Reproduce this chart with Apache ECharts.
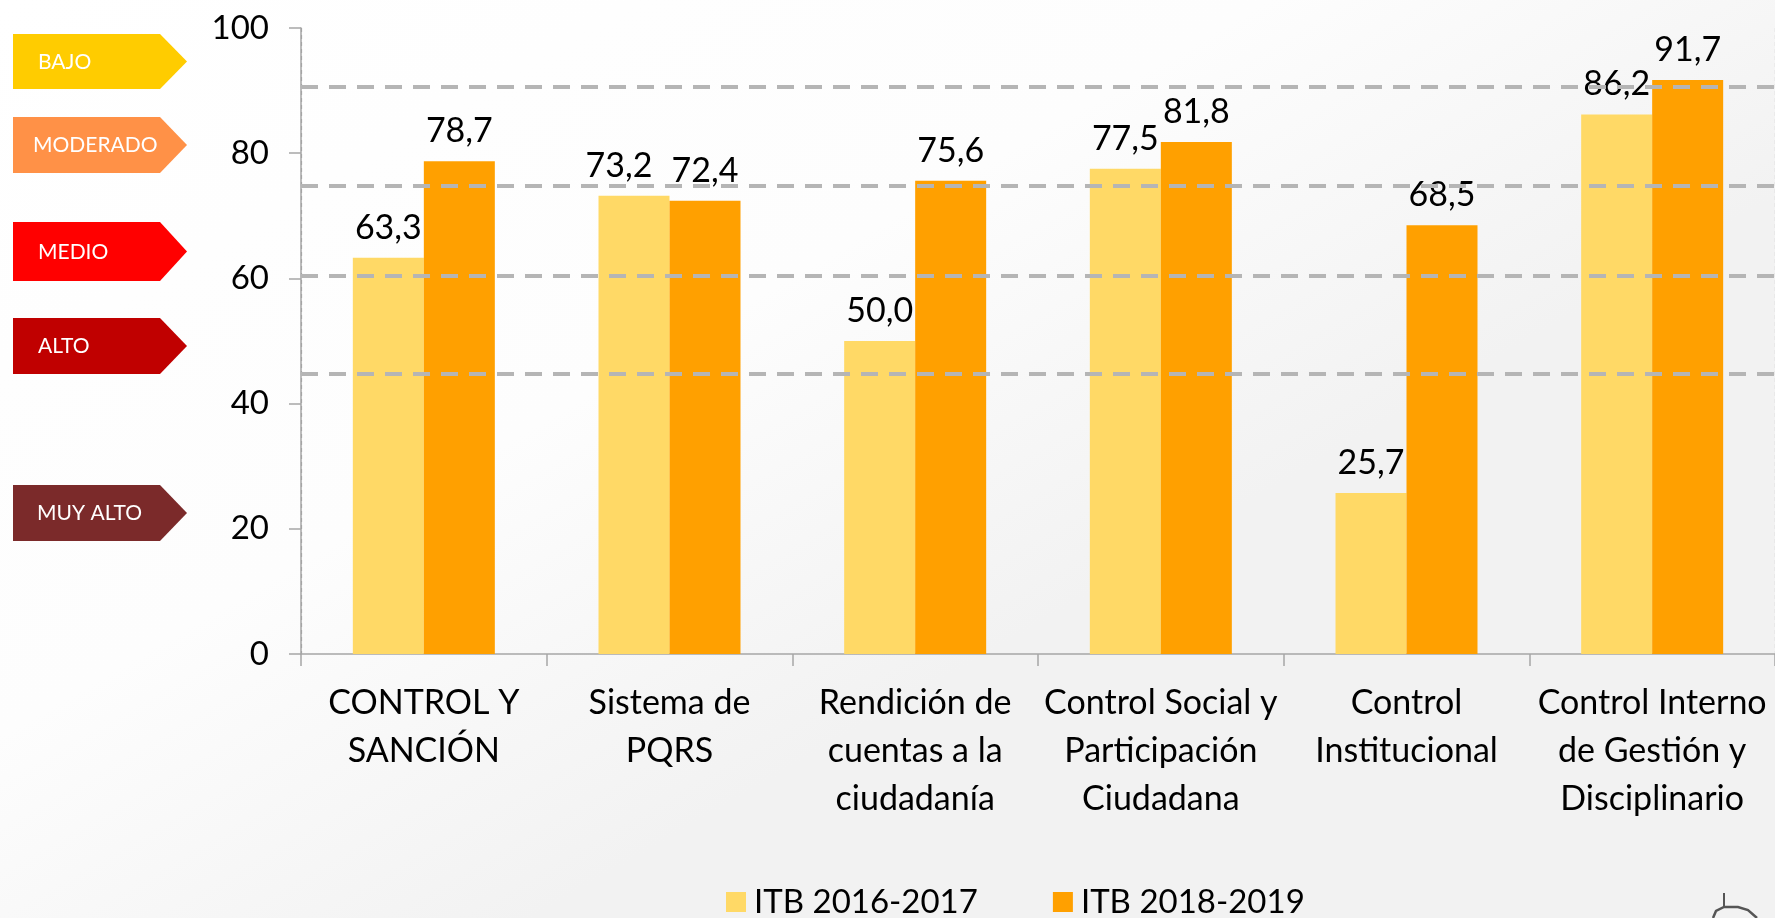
<!DOCTYPE html>
<html>
<head>
<meta charset="utf-8">
<title>ITB</title>
<script src="https://cdn.jsdelivr.net/npm/echarts@6/dist/echarts.min.js"></script>
<style>
  html, body { margin: 0; padding: 0; }
  #main { width: 1775px; height: 918px; }
</style>
</head>
<body>
<div id="main"></div>
<script>
  // categorias del eje x
  var categorias = [
    'CONTROL Y\nSANCIÓN',
    'Sistema de\nPQRS',
    'Rendición de\ncuentas a la\nciudadanía',
    'Control Social y\nParticipación\nCiudadana',
    'Control\nInstitucional',
    'Control Interno\nde Gestión y\nDisciplinario'
  ];
  var serie1Nombre = 'ITB 2016-2017';
  var serie2Nombre = 'ITB 2018-2019';
  var itb2016 = [63.3, 73.2, 50.0, 77.5, 25.7, 86.2];
  var itb2018 = [78.7, 72.4, 75.6, 81.8, 68.5, 91.7];
  var ticksY = [0, 20, 40, 60, 80, 100];
  // limites de los niveles de riesgo (lineas punteadas)
  var limites = [90.6, 74.8, 60.5, 44.8];
  var niveles = ['BAJO', 'MODERADO', 'MEDIO', 'ALTO', 'MUY ALTO'];
  var nivelColores = ['#FFCC00', '#FF9147', '#FF0000', '#C00000', '#7B2A2A'];

  var fuente = 'Lato';

  /* flechas de niveles a la izquierda */
  var flechaY = [[34, 89], [117, 173], [222, 281], [318, 374], [485, 541]];
  var textoX = [38, 33, 38, 38, 37];
  var graficos = [];
  for (var i = 0; i < niveles.length; i++) {
    var y0 = flechaY[i][0], y1 = flechaY[i][1];
    graficos.push({
      type: 'polygon',
      shape: { points: [[13, y0], [160, y0], [187, (y0 + y1) / 2], [160, y1], [13, y1]] },
      style: { fill: nivelColores[i] },
      silent: true
    });
    graficos.push({
      type: 'text',
      left: textoX[i],
      top: (y0 + y1) / 2 - 10,
      style: { text: niveles[i], fill: '#fff', font: '21px ' + fuente }
    });
  }
  // trazo del logo abajo a la derecha
  graficos.push({
    type: 'polyline',
    shape: { points: [[1713, 918], [1716, 911], [1724, 907], [1738, 907], [1748, 910], [1757, 918]] },
    style: { stroke: '#555', lineWidth: 2.5, fill: null }
  });
  graficos.push({
    type: 'line',
    shape: { x1: 1724, y1: 893, x2: 1724, y2: 907 },
    style: { stroke: '#555', lineWidth: 2 }
  });

  var etiqueta = {
    show: true, position: 'top', distance: 13,
    color: '#000', fontSize: 34,
    formatter: function (p) { return p.value.toFixed(1).replace('.', ','); }
  };
  // la etiqueta 73,2 va corrida a la izquierda para no chocar con 72,4
  var datos2016 = itb2016.map(function (v, idx) {
    if (idx === 1) return { value: v, label: { offset: [-15, 0] } };
    return v;
  });

  var chart = echarts.init(document.getElementById('main'));
  var option = {
    animation: false,
    backgroundColor: {
      type: 'linear', x: 0, y: 0, x2: 0.3, y2: 1,
      colorStops: [
        { offset: 0, color: '#ffffff' },
        { offset: 0.6, color: '#fdfdfd' },
        { offset: 1, color: '#f2f2f2' }
      ]
    },
    textStyle: { fontFamily: fuente },
    graphic: graficos,
    grid: { left: 301, top: 28, width: 1481, height: 626 },
    legend: {
      data: [serie1Nombre, serie2Nombre],
      left: 726,
      top: 884,
      padding: 0,
      itemWidth: 20,
      itemHeight: 20,
      itemGap: 75,
      icon: 'rect',
      textStyle: { fontSize: 33, color: '#000', lineHeight: 36, padding: [0, 0, 0, 3] }
    },
    xAxis: {
      type: 'category',
      data: categorias,
      axisLine: { lineStyle: { color: '#a6a6a6', width: 1.5 } },
      axisTick: { show: true, length: 12, lineStyle: { color: '#a6a6a6', width: 1.5 } },
      axisLabel: { color: '#000', fontSize: 34, lineHeight: 48, margin: 25, interval: 0 },
      splitLine: {
        show: true,
        interval: function (index) { return index === 1; },
        lineStyle: { color: '#a0a0a0', width: 1.2, type: [4, 3] }
      }
    },
    yAxis: {
      type: 'value',
      min: ticksY[0],
      max: ticksY[ticksY.length - 1],
      interval: 20,
      axisLine: { show: true, lineStyle: { color: '#a6a6a6', width: 1.5 } },
      axisTick: { show: true, length: 12, lineStyle: { color: '#a6a6a6', width: 1.5 } },
      axisLabel: { color: '#000', fontSize: 33, margin: 32 },
      splitLine: { show: false }
    },
    series: [
      {
        name: serie1Nombre,
        type: 'bar',
        z: 2,
        barWidth: 71,
        barGap: '0%',
        itemStyle: { color: '#FFD966' },
        label: etiqueta,
        data: datos2016
      },
      {
        name: serie2Nombre,
        type: 'bar',
        z: 2,
        barWidth: 71,
        barGap: '0%',
        itemStyle: { color: '#FFA000' },
        label: etiqueta,
        data: itb2018
      },
      {
        // solo para las lineas de limites, detras de las barras
        name: 'limites',
        type: 'line',
        z: 1,
        data: [],
        markLine: {
          silent: true,
          symbol: 'none',
          label: { show: false },
          lineStyle: { color: '#b5b5b5', width: 4, type: [17, 11] },
          data: limites.map(function (v) { return { yAxis: v }; })
        }
      }
    ]
  };
  chart.setOption(option);
</script>
</body>
</html>
